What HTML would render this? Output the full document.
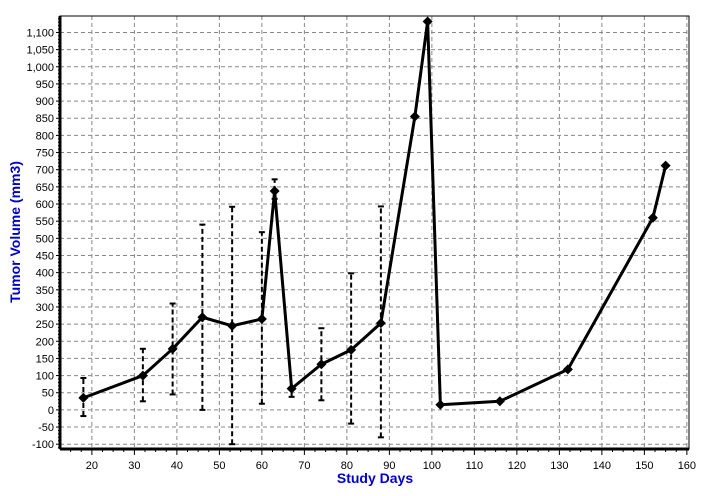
<!DOCTYPE html>
<html><head><meta charset="utf-8"><style>
body{margin:0;background:#fff;}
svg text{font-family:"Liberation Sans",Arial,sans-serif;}
</style></head><body>
<svg id="chart" width="704" height="491" viewBox="0 0 704 491" xmlns="http://www.w3.org/2000/svg">
<g id="grid"></g>
<g id="axes"></g>
<g id="errs"></g>
<g id="series"></g>
<text x="0" y="0" transform="translate(20,232) rotate(-90)" text-anchor="middle" fill="#0000cc" font-weight="bold" font-size="14">Tumor Volume (mm3)</text>
<text x="375" y="483" text-anchor="middle" fill="#0000cc" font-weight="bold" font-size="14">Study Days</text>
</svg>
<script>
const days=[18,32,39,46,53,60,63,67,74,81,88,96,99,102,116,132,152,155];
const volumes=[35,100,178,270,245,265,638,62,133,175,253,855,1132,15,25,118,560,712];
const errDays=[18,32,39,46,53,60,63,67,74,81,88];
const errLow=[-18,25,45,0,-100,18,615,38,28,-40,-80];
const errHigh=[93,178,310,540,592,518,672,62,238,398,593];
const xTicks=[20,30,40,50,60,70,80,90,100,110,120,130,140,150,160];
const yTicks=[-100,-50,0,50,100,150,200,250,300,350,400,450,500,550,600,650,700,750,800,850,900,950,1000,1050,1100];
const L=60,R=689,T=16,B=449,xMin=12.5,xMax=160.5,yMin=-114,yMax=1148;
const X=v=>L+(v-xMin)/(xMax-xMin)*(R-L);
const Y=v=>B-(v-yMin)/(yMax-yMin)*(B-T);
const NS='http://www.w3.org/2000/svg';
function mk(p,tag,a){const e=document.createElementNS(NS,tag);for(const k in a)e.setAttribute(k,a[k]);p.appendChild(e);return e;}
const grid=document.getElementById('grid'),axes=document.getElementById('axes'),errs=document.getElementById('errs'),ser=document.getElementById('series');
xTicks.forEach(t=>{const x=X(t);
 const g=mk(grid,'line',{x1:x,x2:x,y1:T,y2:B,stroke:'#888','stroke-dasharray':'4,3','stroke-width':1});
 
 mk(axes,'line',{x1:x,x2:x,y1:B,y2:B+6,stroke:'#000'});
 const tx=mk(axes,'text',{x:x,y:B+20,'text-anchor':'middle','font-size':11,fill:'#000'});tx.textContent=t;
 
});
for(let t=15;t<=160;t+=2.5){if(t%10)mk(axes,'line',{x1:X(t),x2:X(t),y1:B,y2:B+3,stroke:'#000'});}
yTicks.forEach(t=>{const y=Y(t);
 const g=mk(grid,'line',{x1:L,x2:R,y1:y,y2:y,stroke:'#888','stroke-dasharray':'4,3','stroke-width':1});
 
 mk(axes,'line',{x1:L-4,x2:L,y1:y,y2:y,stroke:'#000'});
 const tx=mk(axes,'text',{x:L-6,y:y+4,'text-anchor':'end','font-size':11,fill:'#000'});tx.textContent=t.toLocaleString('en-US');
 
});
for(let t=-110;t<=1140;t+=10){if(t%50)mk(axes,'line',{x1:L-2,x2:L,y1:Y(t),y2:Y(t),stroke:'#000'});}
mk(axes,'rect',{x:L,y:T,width:R-L,height:B-T,fill:'none',stroke:'#000','stroke-width':1});
mk(axes,'line',{x1:L,x2:L,y1:T,y2:B,stroke:'#000','stroke-width':3});
mk(axes,'line',{x1:L,x2:R,y1:B,y2:B,stroke:'#000','stroke-width':3});
errDays.forEach((d,i)=>{const x=X(d);
 const l=mk(errs,'line',{x1:x,x2:x,y1:Y(errLow[i]),y2:Y(errHigh[i]),stroke:'#000','stroke-width':2,'stroke-dasharray':'5,3'});
 
 [errLow[i],errHigh[i]].forEach(v=>mk(errs,'line',{x1:x-3,x2:x+3,y1:Y(v),y2:Y(v),stroke:'#000','stroke-width':2}));
});
const pl=mk(ser,'polyline',{points:days.map((d,i)=>X(d)+','+Y(volumes[i])).join(' '),fill:'none',stroke:'#000','stroke-width':3,'stroke-linejoin':'round'});

days.forEach((d,i)=>{const x=X(d),y=Y(volumes[i]);
 const m=mk(ser,'polygon',{points:`${x},${y-5} ${x+5},${y} ${x},${y+5} ${x-5},${y}`,fill:'#000'});
 
});
</script>
</body></html>
